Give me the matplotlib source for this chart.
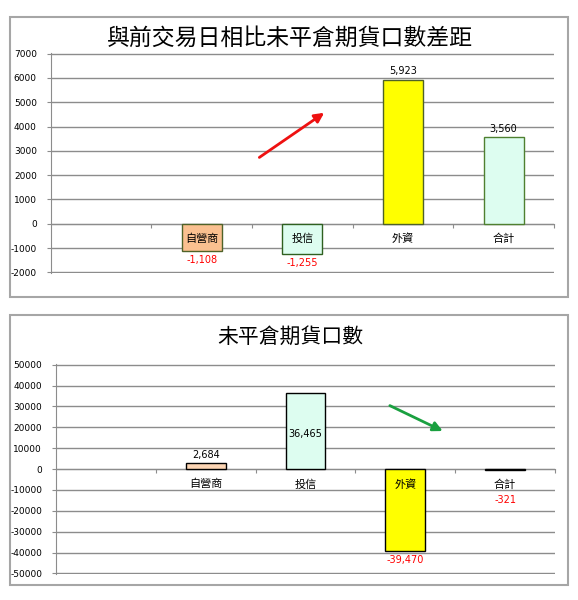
import matplotlib
matplotlib.use('Agg')
import matplotlib.pyplot as plt
from matplotlib.patches import Rectangle

plt.rcParams['font.family'] = ['DejaVu Sans', 'Noto Sans CJK TC']
plt.rcParams['axes.unicode_minus'] = False

# 資料
categories = ['', '自營商', '投信', '外資', '合計']
diff_values = [0, -1108, -1255, 5923, 3560]      # 與前交易日相比
oi_values = [0, 2684, 36465, -39470, -321]       # 未平倉期貨口數
diff_ticks = list(range(-2000, 7001, 1000))
oi_ticks = list(range(-50000, 50001, 10000))

title_top = '與前交易日相比未平倉期貨口數差距'
title_bottom = '未平倉期貨口數'

fig = plt.figure(figsize=(5.78, 6), dpi=100)

# 外框
for y0, h in [(0.505, 0.4667), (0.025, 0.45)]:
    fig.patches.append(Rectangle((0.0173, y0), 0.966, h, transform=fig.transFigure,
                                 fill=False, edgecolor='#A6A6A6', lw=1.5))


def draw(ax, values, ticks, fills, edges, inside=()):
    x = list(range(len(categories)))
    pad = (ticks[-1] - ticks[0]) * 0.003
    ax.set_xlim(-0.5, len(categories) - 0.5)
    ax.set_ylim(ticks[0] - pad, ticks[-1] + pad)
    ax.set_yticks(ticks)
    ax.yaxis.grid(True, color='#8C8C8C', lw=1)
    ax.set_axisbelow(True)
    for s in ['top', 'right']:
        ax.spines[s].set_visible(False)
    ax.spines['left'].set_color('#8C8C8C')
    ax.spines['bottom'].set_position(('data', 0))
    ax.spines['bottom'].set_color('#8C8C8C')
    ax.set_xticks([i + 0.5 for i in x])
    ax.set_xticklabels([])
    ax.tick_params(axis='x', length=3, color='#8C8C8C', direction='out')
    ax.tick_params(axis='y', length=3, color='#8C8C8C', labelsize=6.5, pad=7)

    ax.bar(x, values, width=0.4, color=fills, edgecolor=edges, lw=1, zorder=3)

    for i, (c, v) in enumerate(zip(categories, values)):
        if c == '':
            continue
        ax.annotate(c, (i, 0), xytext=(0, -11), textcoords='offset points',
                    ha='center', va='center', fontsize=8, zorder=5)
        lab = f'{v:,}'
        if c in inside:
            ax.text(i, v * 0.46, lab, ha='center', va='center', fontsize=7, zorder=5)
        elif v >= 0:
            ax.annotate(lab, (i, v), xytext=(0, 2.5), textcoords='offset points',
                        ha='center', va='bottom', fontsize=7)
        else:
            px = ax.transData.transform((i, v))[1] - ax.transData.transform((i, 0))[1]
            off = min(px * 0.72 - 6.5, -22.5)
            ax.annotate(lab, (i, 0), xytext=(0, off), textcoords='offset points',
                        ha='center', va='center', fontsize=7, color='red')


ax1 = fig.add_axes([0.0877, 0.545, 0.8708, 0.3667])
draw(ax1, diff_values, diff_ticks,
     ['none', '#FAC090', '#DDFDF0', '#FFFF00', '#DDFDF0'],
     ['none', '#4F6228', '#2F6020', '#4F6228', '#4F8030'])
ax1.annotate('', xy=(2.24, 4631), xytext=(1.55, 2664),
             arrowprops=dict(arrowstyle='-|>', color='#EE1111', lw=2, mutation_scale=14))

ax2 = fig.add_axes([0.0969, 0.0433, 0.8633, 0.35])
draw(ax2, oi_values, oi_ticks,
     ['none', '#FCD5B4', '#DDFDF0', '#FFFF00', '#DDFDF0'],
     ['none', 'black', 'black', 'black', 'black'], inside=('投信',))
ax2.annotate('', xy=(3.4, 17620), xytext=(2.82, 30950),
             arrowprops=dict(arrowstyle='-|>', color='#1AA040', lw=2, mutation_scale=14))

fig.text(0.5017, 0.9367, title_top, ha='center', va='center', fontsize=16.5)
fig.text(0.5017, 0.4383, title_bottom, ha='center', va='center', fontsize=15)

fig.savefig('out.png', dpi=100)
